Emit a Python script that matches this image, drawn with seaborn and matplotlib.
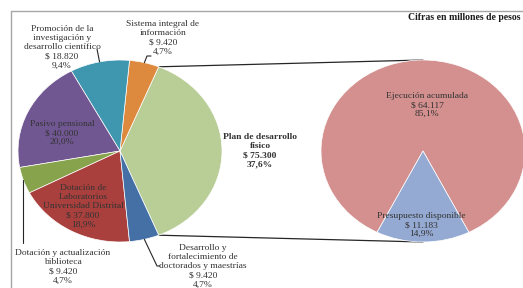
import numpy as np
import matplotlib
matplotlib.use("Agg")
import matplotlib.pyplot as plt
from matplotlib.lines import Line2D
import seaborn as sns

# ---------------- data ----------------
main_labels = [
    "Plan de desarrollo\nfísico",
    "Sistema integral de\ninformación",
    "Promoción de la\ninvestigación y\ndesarrollo científico",
    "Pasivo pensional",
    "Dotación y actualización\nbiblioteca",
    "Dotación de\nLaboratorios\nUniversidad Distrital",
    "Desarrollo y\nfortalecimiento de\ndoctorados y maestrías",
]
main_values = [75300, 9420, 18820, 40000, 9420, 37800, 9420]
main_colors = ["#B9CD96", "#DD8A3E", "#3F96AF", "#705792", "#87A34B", "#A9403D", "#4470A6"]

sub_labels = ["Ejecución acumulada", "Presupuesto disponible"]
sub_values = [64117, 11183]
sub_colors = ["#D3908E", "#95AAD2"]

note = "Cifras en millones de pesos"

# ---------------- style ----------------
sns.set_theme(style="white")
plt.rcParams["font.family"] = ["Liberation Serif", "DejaVu Serif"]

W, H = 523, 288
RX, RY = 102, 91  # pixel radii of the pies (ellipse)
fig = plt.figure(figsize=(W / 100, H / 100), dpi=100)
ax = fig.add_axes([0, 0, 1, 1])


def P(x, y):
    """pixel position -> data position"""
    return (x / RX, (H - y) / RY)


def money(v):
    return "$ " + f"{v:,}".replace(",", ".")


def pct(v, tot):
    return f"{100 * v / tot:.1f}%".replace(".", ",")


tot1 = sum(main_values)
tot2 = sum(sub_values)
c1 = P(120, 151)
c2 = P(423, 151)

start1 = -180 * main_values[0] / tot1
w1, _ = ax.pie(main_values, colors=main_colors, startangle=start1, counterclock=True,
               center=c1, radius=1, wedgeprops=dict(edgecolor="white", linewidth=0.5))
start2 = 270 - 360 * sub_values[0] / tot2 - 180 * sub_values[1] / tot2
w2, _ = ax.pie(sub_values, colors=sub_colors, startangle=start2, counterclock=True,
               center=c2, radius=1, wedgeprops=dict(edgecolor="white", linewidth=0.5))

ax.set_aspect("auto")
ax.set_xlim(0, W / RX)
ax.set_ylim(0, H / RY)
ax.axis("off")


def edge(w, center, frac=0.5):
    a = np.deg2rad(w.theta1 + frac * (w.theta2 - w.theta1))
    return (center[0] + np.cos(a), center[1] + np.sin(a))


# connector lines between pies
top_l = edge(w1[0], c1, 1.0)
bot_l = edge(w1[0], c1, 0.0)
ax.plot([top_l[0], c2[0]], [top_l[1], c2[1] + 1], color="#262626", lw=0.9, zorder=0)
ax.plot([bot_l[0], c2[0]], [bot_l[1], c2[1] - 1], color="#262626", lw=0.9, zorder=0)

tc = "#333333"
fs = 6.8
ls = 1.2


def lab(i, x, y, bold=False):
    t = f"{main_labels[i]}\n{money(main_values[i])}\n{pct(main_values[i], tot1)}"
    ax.text(*P(x, y), t, ha="center", va="center", fontsize=fs, color=tc,
            linespacing=ls, fontweight="bold" if bold else "normal")


lab(0, 260, 151, bold=True)
lab(1, 163, 38)
lab(2, 62, 47)
lab(3, 62, 133)
lab(4, 63, 267)
lab(5, 83, 206)
lab(6, 203, 266)

for i, (x, y) in enumerate([(427, 105), (421, 225)]):
    t = f"{sub_labels[i]}\n{money(sub_values[i])}\n{pct(sub_values[i], tot2)}"
    ax.text(*P(x, y), t, ha="center", va="center", fontsize=fs, color=tc, linespacing=ls)

# leader lines
lc = "#262626"
p = edge(w1[2], c1)
ax.plot([p[0], P(97, 49)[0]], [p[1], P(97, 49)[1]], color=lc, lw=0.8)
p = edge(w1[1], c1)
xs = [p[0], P(147, 56)[0], P(151, 56)[0]]
ys = [p[1], P(147, 56)[1], P(151, 56)[1]]
ax.plot(xs, ys, color=lc, lw=0.8)
p = edge(w1[4], c1)
ax.plot([p[0], p[0]], [p[1], P(24, 243)[1]], color=lc, lw=0.8)
p = edge(w1[6], c1)
xs = [p[0], P(157, 266)[0], P(160, 266)[0]]
ys = [p[1], P(157, 266)[1], P(160, 266)[1]]
ax.plot(xs, ys, color=lc, lw=0.8)

ax.text(*P(520, 17), note, ha="right", va="center", fontsize=7.0, color="#1A1A1A",
        fontweight="bold")

# chart frame (partly outside the picture)
fc = "#A6A6A6"
fig.add_artist(Line2D([11 / W, 1.0], [1 - 11 / H, 1 - 11 / H], transform=fig.transFigure,
                      color=fc, lw=1))
fig.add_artist(Line2D([11 / W, 11 / W], [0.0, 1 - 11 / H], transform=fig.transFigure,
                      color=fc, lw=1))

fig.savefig("out.png", dpi=100, facecolor="white")
